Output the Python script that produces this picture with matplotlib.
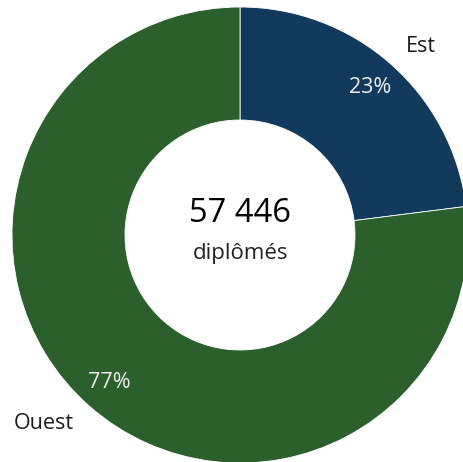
import matplotlib
matplotlib.use("Agg")
import matplotlib.pyplot as plt

plt.rcParams['font.family'] = ['Open Sans', 'DejaVu Sans']

# -- Data --
regions = ["Est", "Ouest"]
shares = [23, 77]
total_graduates = "57 446"
colors = ["#123a5c", "#2b5f2b"]

cx, cy = 240, 227

fig = plt.figure(figsize=(4.63, 4.62), dpi=100)
ax = fig.add_axes([0, 0, 1, 1])

# Donut centred slightly left, outer ring touching the right/bottom edges
wedges, labels, pcts = ax.pie(
    shares, labels=regions, colors=colors,
    startangle=90, counterclock=False,
    center=(cx, cy), radius=228,
    autopct='%d%%', pctdistance=0.865, labeldistance=1.1,
    wedgeprops=dict(width=113, edgecolor='white', linewidth=0.6),
    textprops=dict(fontsize=15.5, color='#1a1a1a'),
    frame=True,
)
ax.axis('off')
ax.set_xlim(0, 463)
ax.set_ylim(0, 462)
ax.set_aspect('equal')

# pie aligns labels on absolute x, so fix the left-hand one
for lbl in labels:
    x, y = lbl.get_position()
    lbl.set_ha('right' if x < cx else 'left')

for t in pcts:
    t.set_color('#eeeeee')
    t.set_fontsize(15.5)

# Centre total
ax.text(cx, 248, total_graduates, ha='center', va='center', fontsize=23.5, color='black')
ax.text(cx, 209, "diplômés", ha='center', va='center', fontsize=16, color='#222222')

fig.savefig("out.png", dpi=100)
